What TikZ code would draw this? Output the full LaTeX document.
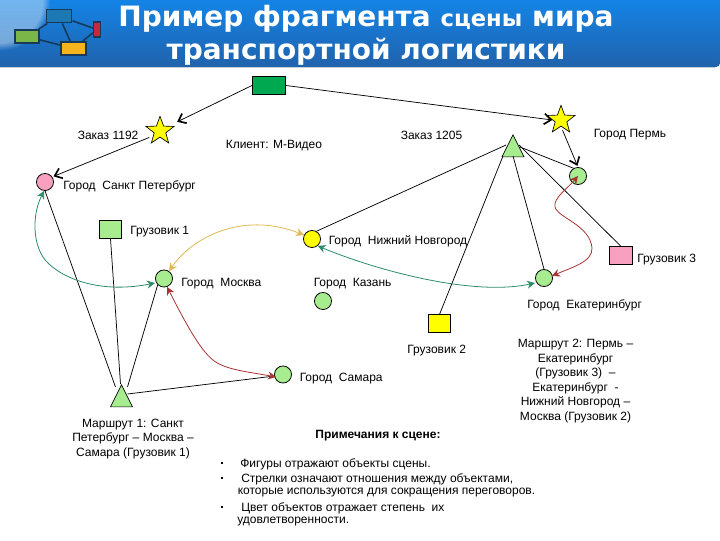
\documentclass[tikz,border=0pt]{standalone}
\usepackage{fontspec}
\setmainfont{Liberation Sans}
\newfontfamily\titlefont{DejaVu Sans}
\usetikzlibrary{arrows.meta,shapes.geometric,calc,fadings}
\definecolor{cgreen}{HTML}{A8EC90}
\definecolor{cpink}{HTML}{F8A0C0}
\definecolor{cyell}{HTML}{FFFF00}
\definecolor{cdark}{HTML}{00A84F}
\definecolor{lgreen}{HTML}{2E8B6A}
\definecolor{lred}{HTML}{A83232}
\definecolor{lyell}{HTML}{E0B850}
\definecolor{hTop}{HTML}{1484E6}
\definecolor{hBot}{HTML}{2062AC}
\definecolor{navy}{HTML}{17395A}
\definecolor{logoB}{HTML}{1E78B4}
\definecolor{logoG}{HTML}{7AB648}
\definecolor{logoY}{HTML}{F5B41E}
\definecolor{logoR}{HTML}{C8283C}
\tikzset{
  city/.style={circle,draw=black,line width=.6pt,minimum size=12.8pt,inner sep=0pt},
  truck/.style={rectangle,draw=black,line width=.6pt,minimum width=17pt,minimum height=13pt,inner sep=0pt},
  route/.style={isosceles triangle,isosceles triangle stretches,shape border rotate=90,draw=black,line width=.5pt,fill=cgreen,minimum width=16.5pt,minimum height=16.5pt,inner sep=0pt,anchor=apex},
  order/.style={star,star points=5,star point ratio=2.4,draw=black,line width=.5pt,fill=cyell,minimum size=22pt,inner sep=0pt},
  lbl/.style={font=\fontsize{9}{10.9}\selectfont,inner sep=0pt,anchor=west,yshift=-.75pt},
  blk/.style={font=\fontsize{9}{10.9}\selectfont,inner sep=0pt,align=center},
  dot/.style={fill=black,inner sep=0pt,minimum size=2.2pt},
  link/.style={draw=black,line width=.55pt},
  rel/.style={draw=black,line width=.55pt,-{Straight Barb[length=5pt,width=8pt,line width=1.25pt]}},
  curve/.style={line width=.6pt,{Stealth[length=6pt,width=6pt]}-{Stealth[length=6pt,width=6pt]}},
  logo/.style={rectangle,draw=navy,line width=1.2pt,inner sep=0pt},
  logolink/.style={draw=navy,line width=1.2pt},
  ttl/.style={text=white,inner sep=0pt,font=\titlefont\bfseries}
}
\begin{document}
\begin{tikzpicture}[x=.75pt,y=-.75pt]
\useasboundingbox (0,0) rectangle (720,540);
% header
\fill[top color=hTop,bottom color=hBot] (0,67) -- (0,0) -- (720,0) {[rounded corners=3.5pt] -- (720,67) -- (600,67)} -- cycle;
\begin{scope}
\clip (0,0) rectangle (60,67);
\fill[white,opacity=.4,path fading=circle with fuzzy edge 15 percent] (-50,-50) rectangle (50,50);
\end{scope}
% logo
\node[logo,fill=logoB,minimum width=19pt,minimum height=10pt] (lb) at (59,16) {};
\node[logo,fill=logoG,minimum width=18pt,minimum height=10pt] (lg) at (27,36.5) {};
\node[logo,fill=logoY,minimum width=19pt,minimum height=10pt] (ly) at (73.5,48.5) {};
\node[logo,fill=logoR,minimum width=5pt,minimum height=11pt] (lr) at (97,29.5) {};
\draw[logolink] (lb) -- (lg);
\draw[logolink] (lb) -- (lr);
\draw[logolink] (lb) -- (ly);
\draw[logolink] (lg) -- (ly);
\draw[logolink] (ly) -- (lr);
% title
\node[ttl] (t1) at (366,19) {\fontsize{21}{25}\selectfont Пример фрагмента {\fontsize{17}{25}\selectfont сцены} мира};
\node[ttl] (t2) at (366,52) {\fontsize{21}{25}\selectfont транспортной логистики};
% nodes
\node[truck,fill=cdark,minimum width=25pt] (client) at (269,85.5) {};
\node[order] (s1) at (160,131) {};
\node[order] (s2) at (561,120) {};
\node[city,fill=cpink] (spb) at (45,182) {};
\node[route] (tr2) at (513,134) {};
\node[route] (tr1) at (121.5,384) {};
\node[city,fill=cgreen] (perm) at (578,176) {};
\node[truck,fill=cgreen] (g1) at (110.5,229.5) {};
\node[city,fill=cyell] (nn) at (312,239) {};
\node[city,fill=cgreen] (msk) at (164,278.5) {};
\node[city,fill=cgreen] (kaz) at (323,301) {};
\node[city,fill=cgreen] (sam) at (283,374.5) {};
\node[city,fill=cgreen] (ekb) at (544,278) {};
\node[truck,fill=cpink] (g3) at (621,255.5) {};
\node[truck,fill=cyell] (g2) at (439.5,323.5) {};
% structure links
\coordinate (t2a) at ($(tr2.apex)+(7,13)$);
\coordinate (t2b) at ($(tr2.apex)+(-7,11)$);
\coordinate (t2c) at ($(tr2.apex)+(-10,22)$);
\coordinate (t2d) at ($(tr2.apex)+(0,22)$);
\coordinate (t2e) at ($(tr2.apex)+(6,11)$);
\coordinate (t1a) at ($(tr1.apex)+(-6,3)$);
\coordinate (t1b) at ($(tr1.apex)+(-1,0)$);
\coordinate (t1c) at ($(tr1.apex)+(6,3)$);
\coordinate (t1d) at ($(tr1.apex)+(6,10)$);
\draw[link] (t2a) -- (perm.120);
\draw[link] (t2b) -- (nn.60);
\draw[link] (t2c) -- (g2.north);
\draw[link] (t2d) -- (ekb.north);
\draw[link] (t2e) -- (g3.north);
\draw[link] (t1a) -- (spb.south);
\draw[link] (t1b) -- (g1.south);
\draw[link] (t1c) -- (msk.south west);
\draw[link] (t1d) -- (sam.190);
% relations
\draw[rel,shorten >=7pt] (client.west) -- (s1.30);
\draw[rel] (client.east) -- (s2.west);
\draw[rel,shorten <=3pt,shorten >=1pt] (s1.215) -- (spb.35);
\draw[rel,shorten <=3pt,shorten >=1pt] (s2.south) -- (perm.north);
% curved
\draw[curve,lgreen] (spb.265) .. controls (33,212) and (32,240) .. (43,257) .. controls (55,275) and (95,295) .. (155,283);
\draw[curve,lgreen] (nn.-50) .. controls (370,268) and (470,297) .. (535,283);
\draw[curve,lyell] (msk.55) .. controls (190,240) and (240,210) .. (304,235);
\draw[curve,lred] (msk.-70) .. controls (185,322) and (200,350) .. (213,360) .. controls (225,370) and (250,372) .. (276,377);
\draw[curve,lred] (perm.center) .. controls (568,188) and (553,198) .. (555,207) .. controls (558,218) and (590,225) .. (592,248) .. controls (593,262) and (570,268) .. (552,276);
% labels
\node[lbl] (a1) at (77.5,134) {Заказ 1192};
\node[lbl] (a2) at (400.5,134) {Заказ 1205};
\node[lbl] (a3) at (225.5,145) {Клиент: М-Видео};
\node[lbl] (a4) at (593.5,134) {Город Пермь};
\node[lbl] (a5) at (63,185) {Город\ \ Санкт Петербург};
\node[lbl] (a6) at (130,231) {Грузовик 1};
\node[lbl] (a7) at (328.5,240) {Город\ \ Нижний Новгород};
\node[lbl] (a8) at (181,283) {Город\ \ Москва};
\node[lbl] (a9) at (313.5,283) {Город\ \ Казань};
\node[lbl] (a10) at (637,259) {Грузовик 3};
\node[lbl] (a11) at (527,304) {Город\ \ Екатеринбург};
\node[lbl] (a12) at (407,350) {Грузовик 2};
\node[lbl] (a13) at (299.5,378) {Город\ \ Самара};
\node[blk] (b1) at (575.5,381) {Маршрут 2: Пермь –\\Екатеринбург\\(Грузовик 3)\ \ –\\Екатеринбург\ \ -\\Нижний Новгород –\\Москва (Грузовик 2)};
\node[blk] (b2) at (133,439) {Маршрут 1: Санкт\\Петербург – Москва –\\Самара (Грузовик 1)};
\node[blk,font=\fontsize{9}{10.9}\selectfont\bfseries] (b3) at (378,436) {Примечания к сцене:};
% notes
\node[dot] (d1) at (222,463) {};
\node[dot] (d2) at (222,478) {};
\node[dot] (d3) at (222,507) {};
\node[lbl] (n1) at (240,463) {Фигуры отражают объекты сцены.};
\node[lbl] (n2) at (241,478) {Стрелки означают отношения между объектами,};
\node[lbl] (n3) at (237.5,492) {которые используются для сокращения переговоров.};
\node[lbl] (n4) at (241,507) {Цвет объектов отражает степень\ \ их};
\node[lbl] (n5) at (237,521) {удовлетворенности.};
\end{tikzpicture}
\end{document}
